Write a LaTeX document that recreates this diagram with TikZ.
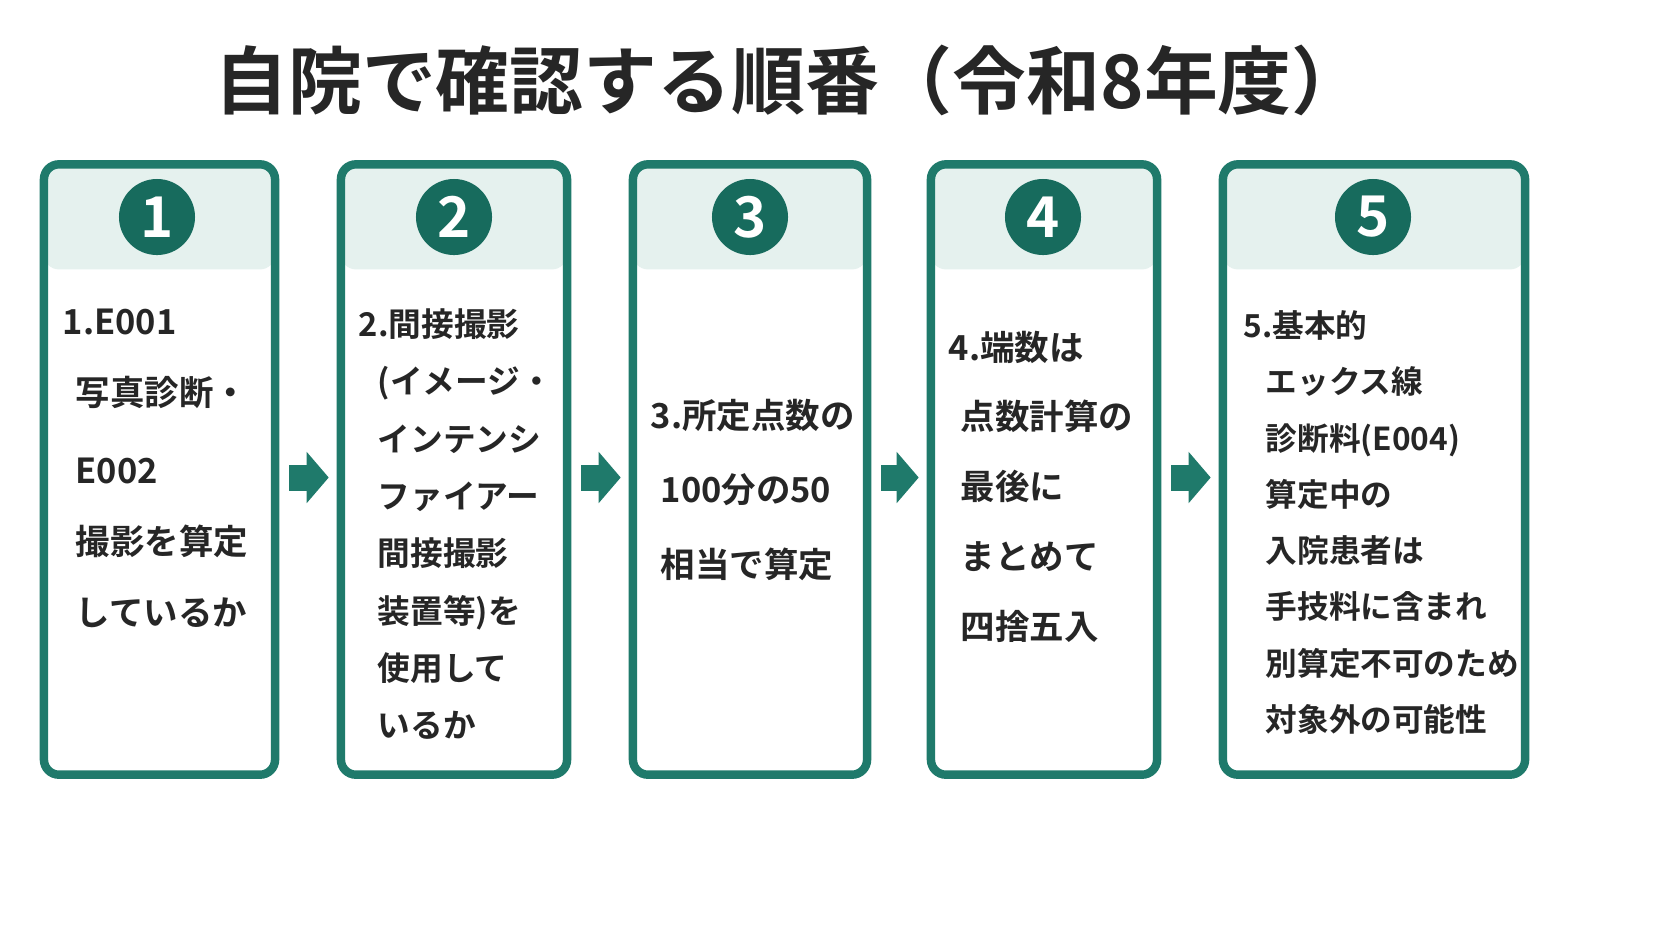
\documentclass[tikz,border=0pt]{standalone}
\usepackage{fontspec}
\setmainfont{Noto Sans CJK JP}[BoldFont={* Bold}]
\usetikzlibrary{arrows.meta, positioning}
\definecolor{teal1}{HTML}{1F7A6B}
\definecolor{teal2}{HTML}{176B5D}
\definecolor{head}{HTML}{E5F1EE}
\tikzset{
	box/.style={draw=teal1, line width=2.4pt, rounded corners=0.15cm, fill=white,
		minimum height=6.1cm, inner sep=0pt,
		path picture={\fill[head] (path picture bounding box.north west) rectangle
			([yshift=-1.05cm]path picture bounding box.north east);}},
	num/.style={circle, fill=teal2, minimum size=0.76cm, inner sep=0pt,
		text=white, font=\bfseries\fontsize{16}{16}\selectfont},
	txt/.style={anchor=north west, inner sep=0pt, align=left, text=black!85, font=\bfseries},
	flow/.style={line width=0.26cm, draw=teal1, shorten <=0.1cm, shorten >=0.08cm,
		-{Triangle[length=0.22cm, width=0.5cm]}},
}
\begin{document}
\begin{tikzpicture}[x=0.01cm, y=-0.01cm]
	\useasboundingbox (0,0) rectangle (1672,941);
	% Title
	\node[font=\bfseries\fontsize{21}{21}\selectfont, text=black!85] (title) at (790,80) {自院で確認する順番（令和8年度）};
	% Boxes
	\node[box, minimum width=2.31cm] (b1) at (159.5,469.5) {};
	\node[box, minimum width=2.26cm] (b2) at (454,469.5) {};
	\node[box, minimum width=2.34cm] (b3) at (750,469.5) {};
	\node[box, minimum width=2.26cm] (b4) at (1044,469.5) {};
	\node[box, minimum width=3.02cm] (b5) at (1374,469.5) {};
	% Numbers
	\foreach \i/\x in {1/157,2/454,3/750,4/1043,5/1373}
		\node[num] (n\i) at (\x,217) {\i};
	% Texts
	\node[txt, font=\bfseries\fontsize{9.8}{20.2}\selectfont] (t1) at (62,308)
		{1.E001\\\hspace*{0.13cm}写真診断・\\[2pt]\hspace*{0.13cm}E002\\\hspace*{0.13cm}撮影を算定\\\hspace*{0.13cm}しているか};
	\node[txt, font=\bfseries\fontsize{9.3}{16.3}\selectfont] (t2) at (358,308)
		{2.間接撮影\\\hspace*{0.19cm}(イメージ・\\\hspace*{0.19cm}インテンシ\\\hspace*{0.19cm}ファイアー\\\hspace*{0.19cm}間接撮影\\\hspace*{0.19cm}装置等)を\\\hspace*{0.19cm}使用して\\\hspace*{0.19cm}いるか};
	\node[txt, font=\bfseries\fontsize{9.8}{21.3}\selectfont] (t3) at (650,398)
		{3.所定点数の\\\hspace*{0.1cm}100分の50\\\hspace*{0.1cm}相当で算定};
	\node[txt, font=\bfseries\fontsize{9.8}{19.9}\selectfont] (t4) at (948,330)
		{4.端数は\\\hspace*{0.12cm}点数計算の\\\hspace*{0.12cm}最後に\\\hspace*{0.12cm}まとめて\\\hspace*{0.12cm}四捨五入};
	\node[txt, font=\bfseries\fontsize{9}{16}\selectfont] (t5) at (1243,310)
		{5.基本的\\\hspace*{0.22cm}エックス線\\\hspace*{0.22cm}診断料(E004)\\\hspace*{0.22cm}算定中の\\\hspace*{0.22cm}入院患者は\\\hspace*{0.22cm}手技料に含まれ\\\hspace*{0.22cm}別算定不可のため\\\hspace*{0.22cm}対象外の可能性};
	% Arrows
	\foreach \a/\b in {b1/b2, b2/b3, b3/b4, b4/b5}
		\draw[flow] ([yshift=-0.08cm]\a.east) -- ([yshift=-0.08cm]\b.west);
\end{tikzpicture}
\end{document}
